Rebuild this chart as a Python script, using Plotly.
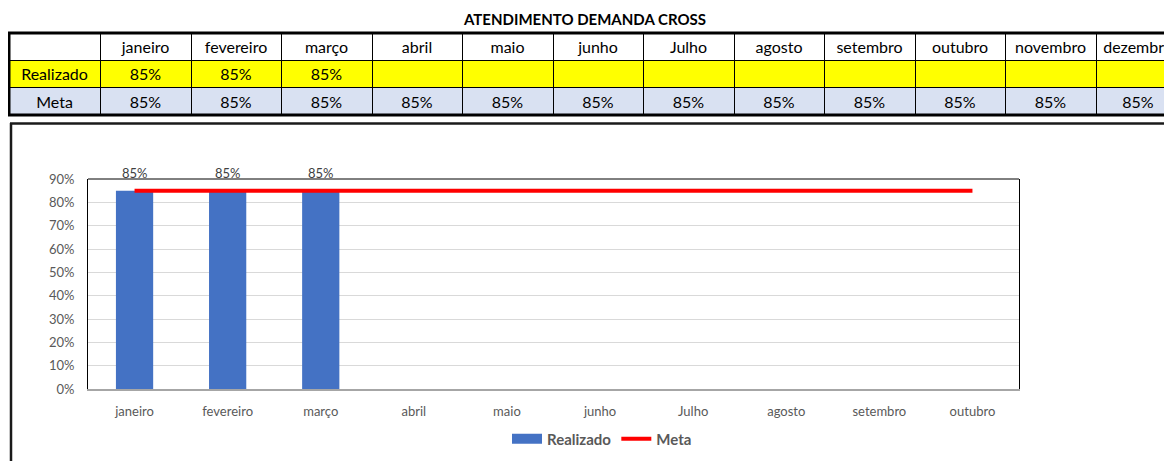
import plotly.graph_objects as go

# ---------------- data ----------------
title_text = "ATENDIMENTO DEMANDA CROSS"
table_months = ["janeiro", "fevereiro", "março", "abril", "maio", "junho", "Julho",
                "agosto", "setembro", "outubro", "novembro", "dezembro"]
realizado = [0.85, 0.85, 0.85, None, None, None, None, None, None, None, None, None]
meta = [0.85] * 12
chart_months = table_months[:10]
chart_realizado = realizado[:10]
chart_meta = meta[:10]
y_ticks = [0, 0.1, 0.2, 0.3, 0.4, 0.5, 0.6, 0.7, 0.8, 0.9]

W, H = 1172, 461
OFF = 8  # page offset of the figure
FONT = "Lato"
BLUE = "#4472C4"
RED = "#FF0000"
YELLOW = "#FFFF00"
LIGHT = "#D9E1F2"
GRAY_TXT = "#595959"


def px_x(p):
    return (p - OFF) / W


def px_y(p):
    return 1 - (p - OFF) / H


def pct(v):
    return "" if v is None else f"{round(v * 100)}%"


fig = go.Figure()

# ---------------- table ----------------
header_vals = [""] + table_months
cells_vals = [["Realizado", "Meta"]] + [[pct(r), pct(m)] for r, m in zip(realizado, meta)]
col_widths = [91, 91, 90, 91, 90, 91, 90, 91, 90, 91, 90, 91, 84]
fig.add_trace(go.Table(
    domain=dict(x=[px_x(9), 1], y=[px_y(119), px_y(33)]),
    columnwidth=col_widths,
    header=dict(values=header_vals, height=27, align="center",
                fill_color="white", line=dict(color="#000000", width=1),
                font=dict(family=FONT, size=16, color="#000000")),
    cells=dict(values=cells_vals, height=27.5, align="center",
               fill_color=[[YELLOW, LIGHT]] * 13,
               line=dict(color="#000000", width=1),
               font=dict(family=FONT, size=16, color="#000000")),
))

# ---------------- chart ----------------
fig.add_trace(go.Bar(
    x=chart_months, y=chart_realizado, name="Realizado",
    marker=dict(color=BLUE, line=dict(width=0)),
    legendgroup="r", showlegend=False,
    xaxis="x", yaxis="y",
))
# legend swatch for the bars (wide rectangle like the reference)
fig.add_trace(go.Scatter(
    x=chart_months, y=[None] * len(chart_months), name="Realizado",
    mode="lines", line=dict(color=BLUE, width=12),
    legendgroup="r", hoverinfo="skip",
    xaxis="x", yaxis="y",
))
fig.add_trace(go.Scatter(
    x=chart_months, y=chart_meta, name="Meta", mode="lines",
    line=dict(color=RED, width=4),
    xaxis="x", yaxis="y",
))

annotations = []
for m, v in zip(chart_months, chart_realizado):
    if v is not None:
        annotations.append(dict(x=m, y=v, xref="x", yref="y", text=pct(v),
                                showarrow=False, yanchor="bottom", yshift=8,
                                font=dict(family=FONT, size=13, color="#404040")))
annotations.append(dict(x=px_x(584), y=px_y(19), xref="paper", yref="paper",
                        text=f"<b>{title_text}</b>", showarrow=False,
                        xanchor="center", yanchor="middle",
                        font=dict(family=FONT, size=15, color="#000000")))

shapes = [
    # table thick outer border
    dict(type="line", xref="paper", yref="paper", x0=px_x(8), x1=1.02,
         y0=px_y(33), y1=px_y(33), line=dict(color="#000000", width=3)),
    dict(type="line", xref="paper", yref="paper", x0=px_x(8), x1=1.02,
         y0=px_y(115), y1=px_y(115), line=dict(color="#000000", width=3)),
    dict(type="line", xref="paper", yref="paper", x0=px_x(9), x1=px_x(9),
         y0=px_y(33), y1=px_y(115), line=dict(color="#000000", width=3)),
    # chart outer frame
    dict(type="line", xref="paper", yref="paper", x0=px_x(10), x1=1.02,
         y0=px_y(123.5), y1=px_y(123.5), line=dict(color="#1a1a1a", width=2.5)),
    dict(type="line", xref="paper", yref="paper", x0=px_x(11), x1=px_x(11),
         y0=px_y(123), y1=-0.05, line=dict(color="#1a1a1a", width=2.5)),
    # plot area top border
    dict(type="line", xref="x domain", yref="y domain", x0=0, x1=1, y0=1, y1=1,
         line=dict(color="#000000", width=1)),
]

fig.update_layout(
    width=W, height=H,
    margin=dict(l=0, r=0, t=0, b=0, autoexpand=False),
    paper_bgcolor="white", plot_bgcolor="white",
    font=dict(family=FONT, color=GRAY_TXT),
    bargap=0.6,
    showlegend=True,
    legend=dict(orientation="h", x=px_x(602), xanchor="center",
                y=px_y(439), yanchor="middle",
                font=dict(family=FONT, size=15, color=GRAY_TXT, weight="bold"),
                itemwidth=30, bgcolor="rgba(0,0,0,0)"),
    xaxis=dict(domain=[px_x(88), px_x(1019)], type="category",
               showline=True, linecolor="#A6A6A6", linewidth=1.5,
               showgrid=False, ticks="", ticklabelstandoff=10,
               tickfont=dict(family=FONT, size=13, color=GRAY_TXT),
               anchor="y", fixedrange=True, automargin=False),
    yaxis=dict(domain=[px_y(389), px_y(179)], range=[0, 0.9],
               tickvals=y_ticks, tickformat=".0%",
               showline=True, linecolor="#000000", linewidth=1, mirror=True,
               showgrid=True, gridcolor="#D9D9D9", gridwidth=1,
               zeroline=False, ticks="", ticklabelstandoff=10,
               tickfont=dict(family=FONT, size=13, color=GRAY_TXT),
               anchor="x", fixedrange=True, automargin=False),
    annotations=annotations,
    shapes=shapes,
)

fig.write_html("out.html")
